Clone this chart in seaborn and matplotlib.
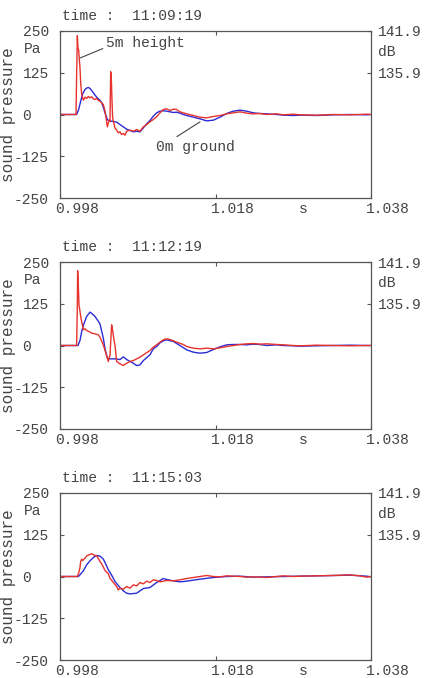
import numpy as np
import pandas as pd
import matplotlib
matplotlib.use("Agg")
import matplotlib.pyplot as plt
from matplotlib.transforms import ScaledTranslation
import seaborn as sns

# time offsets are in ms after 0.998 s, pressures in Pa
t1_red = [0, 2.06, 2.14, 2.23, 2.31, 2.40, 2.49, 2.57, 2.66, 2.79, 2.92, 3.00, 3.22, 3.43, 3.64, 3.86,
          4.07, 4.29, 4.50, 4.72, 4.93, 5.14, 5.36, 5.57, 5.79, 5.92, 6.09, 6.22, 6.34, 6.43, 6.52, 6.60,
          6.69, 6.77, 6.86, 7.07, 7.29, 7.50, 7.72, 7.93, 8.15, 8.36, 8.57, 9.00, 9.43, 9.86, 10.29, 10.72,
          11.15, 11.57, 12.00, 12.43, 12.86, 13.29, 13.72, 14.15, 14.58, 15.00, 15.43, 15.86, 16.29, 17.15,
          18.01, 18.86, 19.72, 20.58, 21.44, 22.29, 23.15, 24.01, 24.86, 25.72, 26.58, 27.87, 28.72, 30.01,
          30.87, 33.01, 35.15, 37.30, 39.44, 40.0]
p1_red = [0, 0, 120, 236, 200, 193, 163, 140, 95, 60, 48, 43, 52, 48, 54, 50,
          53, 47, 45, 48, 42, 40, 35, 30, 10, -10, -37, -25, -17, -20, 128, 110,
          40, -10, -20, -40, -47, -55, -52, -60, -57, -62, -50, -47, -50, -45, -50, -37,
          -30, -22, -15, -7, 5, 15, 17, 12, 16, 15, 8, 5, 2, -3,
          -8, -10, -6, -3, 2, 5, 8, 4, 2, 3, 0, 2, -1, 1,
          -1, -2, 0, -1, 1, 0]
t1_blue = [0, 2.14, 2.40, 2.66, 2.92, 3.22, 3.43, 3.64, 3.86, 4.07, 4.29, 4.50, 4.72, 4.93, 5.14, 5.36,
           5.57, 5.79, 6.09, 6.34, 6.60, 6.86, 7.29, 7.72, 8.15, 8.57, 9.00, 9.43, 9.86, 10.29, 10.72, 11.15,
           11.57, 12.00, 12.43, 12.86, 13.29, 13.72, 14.15, 14.58, 15.00, 15.43, 15.86, 16.29, 17.15, 18.01,
           18.86, 19.72, 20.58, 21.44, 22.29, 23.15, 24.01, 24.86, 25.72, 26.58, 27.87, 28.72, 30.01, 30.87,
           33.01, 35.15, 37.30, 39.44, 40.0]
p1_blue = [0, 0, 15, 40, 62, 75, 79, 81, 78, 72, 65, 58, 52, 47, 43, 35,
           22, 5, -15, -20, -20, -21, -23, -30, -37, -44, -48, -52, -50, -52, -40, -28,
           -18, -5, 5, 10, 11, 10, 8, 6, 7, 4, 0, -3, -8, -13,
           -19, -17, -8, 3, 10, 13, 10, 5, 3, 2, 0, -2, -3, -2,
           -3, -1, 0, -1, 0]

t2_red = [0, 2.14, 2.23, 2.27, 2.36, 2.44, 2.70, 3.00, 3.22, 3.43, 3.86, 4.07, 4.50, 4.93, 5.14, 5.57,
          5.92, 6.22, 6.34, 6.43, 6.64, 6.77, 6.86, 7.07, 7.29, 7.72, 8.15, 8.57, 9.00, 9.43, 9.86, 10.29,
          10.72, 11.57, 12.00, 12.43, 12.86, 13.29, 13.72, 14.15, 14.58, 15.00, 15.86, 16.29, 17.15, 18.01,
          18.86, 19.72, 20.58, 21.44, 22.29, 23.15, 24.01, 24.86, 25.72, 26.58, 27.87, 28.72, 30.01, 30.87,
          33.01, 35.15, 37.30, 39.44, 40.0]
p2_red = [0, 0, 120, 224, 180, 122, 82, 47, 50, 45, 40, 37, 35, 32, 25, 2,
          -25, -48, -35, -30, 62, 45, 30, 0, -48, -55, -60, -53, -48, -45, -40, -35,
          -28, -15, -5, 2, 10, 17, 20, 18, 14, 10, 3, -3, -8, -10,
          -8, -10, -7, -3, 0, 3, 5, 6, 4, 5, 3, 2, 0, -1,
          1, 0, -1, 0, 0]
t2_blue = [0, 2.31, 2.57, 2.79, 3.00, 3.43, 3.86, 4.29, 4.50, 5.14, 5.57, 5.79, 6.09, 6.43, 7.07, 7.72,
           8.15, 8.57, 9.43, 9.86, 10.29, 10.72, 11.57, 12.00, 12.43, 12.86, 13.29, 13.72, 14.58, 15.43,
           16.29, 17.15, 18.01, 18.86, 19.72, 20.58, 21.44, 22.29, 23.15, 24.01, 24.86, 25.72, 26.58, 27.87,
           28.72, 30.01, 30.87, 33.01, 35.15, 37.30, 39.44, 40.0]
p2_blue = [0, 0, 15, 42, 60, 87, 100, 92, 87, 65, 22, -10, -38, -40, -40, -42,
           -34, -42, -53, -60, -58, -45, -28, -10, -3, 8, 14, 17, 12, 0,
           -13, -20, -23, -21, -12, -4, 2, 3, 3, 2, 4, 3, 0, 2,
           0, -1, -2, -1, 0, 1, 0, 0]

t3_red = [0, 2.23, 2.40, 2.57, 2.66, 2.79, 2.92, 3.22, 3.43, 3.86, 4.07, 4.50, 4.72, 5.14, 5.36, 5.79,
          6.22, 6.43, 6.86, 7.29, 7.50, 7.72, 8.15, 8.57, 9.00, 9.43, 9.86, 10.29, 10.72, 11.15, 11.57,
          12.00, 12.43, 12.86, 13.72, 14.58, 15.43, 16.29, 17.15, 18.01, 18.86, 19.72, 20.58, 21.44, 22.29,
          23.15, 24.01, 24.86, 26.58, 27.87, 28.72, 30.01, 30.87, 33.01, 35.15, 37.30, 38.5, 39.44, 40.0]
p3_red = [0, 0, 10, 27, 45, 52, 48, 55, 62, 66, 68, 63, 62, 45, 38, 18,
          8, -5, -18, -30, -40, -35, -38, -30, -35, -25, -28, -18, -22, -14, -18,
          -10, -12, -16, -12, -13, -10, -6, -3, 0, 3, 0, -1, 2, 1,
          0, -2, -1, -3, 0, 2, 0, 1, 2, 3, 5, 2, -2, 0]
t3_blue = [0, 2.36, 2.57, 3.00, 3.43, 3.86, 4.29, 4.72, 5.14, 5.57, 5.79, 6.22, 6.69, 7.07, 7.72, 8.15,
           8.57, 9.00, 9.43, 9.86, 10.72, 11.57, 12.43, 13.29, 13.72, 14.58, 15.43, 16.29, 18.01, 19.72,
           21.44, 23.15, 24.86, 26.58, 28.72, 30.87, 33.01, 35.15, 37.30, 39.44, 40.0]
p3_blue = [0, 0, 5, 17, 35, 47, 57, 63, 61, 52, 42, 20, 2, -15, -33, -43,
           -50, -52, -51, -50, -36, -33, -18, -6, -9, -13, -16, -14, -8, -3,
           0, 1, -2, -1, 0, 1, 2, 3, 4, 1, -1]

times = ["11:09:19", "11:12:19", "11:15:03"]
x_ticks = [0.998, 1.018, 1.038]
x_labels = ["0.998", "1.018", "1.038"]
y_ticks = [250, 125, 0, -125, -250]
y_labels = ["250", "125", "0  ", "-125", "-250"]
db_ticks = [250, 125]
db_labels = ["141.9", "135.9"]

RED = "#e8322c"
BLUE = "#2c2cd6"
INK = "#444444"

sns.set_style("ticks")
plt.rcParams["font.family"] = ["Liberation Mono", "DejaVu Sans Mono"]

fig = plt.figure(figsize=(4.32, 6.78), dpi=100)
W, H = 432, 678
tops = [31, 262, 493]

panels = [(t1_red, p1_red, t1_blue, p1_blue),
          (t2_red, p2_red, t2_blue, p2_blue),
          (t3_red, p3_red, t3_blue, p3_blue)]

for i, (tr, pr, tb, pb) in enumerate(panels):
    top = tops[i]
    ax = fig.add_axes([60 / W, (H - top - 167) / H, 311 / W, 167 / H])
    blue = pd.DataFrame({"t": 0.998 + np.array(tb) / 1000, "p": pb})
    red = pd.DataFrame({"t": 0.998 + np.array(tr) / 1000, "p": pr})
    sns.lineplot(data=blue, x="t", y="p", ax=ax, color=BLUE, lw=1.0, estimator=None, sort=False)
    sns.lineplot(data=red, x="t", y="p", ax=ax, color=RED, lw=1.0, estimator=None, sort=False)

    ax.set_xlim(0.998, 1.038)
    ax.set_ylim(-250, 250)
    ax.set_xticks(x_ticks)
    ax.set_xticklabels(x_labels)
    ax.set_yticks(y_ticks)
    ax.set_yticklabels(y_labels)
    ax.tick_params(direction="in", length=3, width=0.8, color="#555555", labelcolor=INK,
                   labelsize=10.5, top=True)
    ax.tick_params(axis="y", pad=8)
    ax.tick_params(axis="x", pad=3)
    for lab in ax.get_xticklabels():
        lab.set_transform(lab.get_transform() + ScaledTranslation(17 / 100, 0, fig.dpi_scale_trans))
    for s in ax.spines.values():
        s.set_color("#555555")
        s.set_linewidth(0.9)

    tw = ax.twinx()
    tw.set_ylim(-250, 250)
    tw.set_yticks(db_ticks)
    tw.set_yticklabels(db_labels)
    tw.tick_params(direction="in", length=3, width=0.8, color="#555555", labelcolor=INK,
                   labelsize=10.5, pad=5)
    for s in tw.spines.values():
        s.set_visible(False)

    ax.set_xlabel("")
    ax.set_ylabel("sound pressure", fontsize=11.5, color=INK)
    # rotated label is anchored on its right edge
    ax.yaxis.set_label_coords(-44 / 311, 0.5)

    ax.text(2 / 311, 1 + 15 / 167, "time :  " + times[i], transform=ax.transAxes,
            ha="left", va="center", fontsize=10.5, color=INK)
    ax.text(-36 / 311, 0.892, "Pa", transform=ax.transAxes, ha="left", va="center",
            fontsize=10.5, color=INK)
    ax.text(1 + 7 / 311, 0.874, "dB", transform=ax.transAxes, ha="left", va="center",
            fontsize=10.5, color=INK)
    ax.text(243 / 311, -11 / 167, "s", transform=ax.transAxes, ha="center", va="center",
            fontsize=10.5, color=INK)

    if i == 0:
        ax.annotate("5m height", xy=(1.00057, 169), xytext=(1.00392, 214),
                    ha="left", va="center", fontsize=10.5, color=INK,
                    arrowprops=dict(arrowstyle="-", color=INK, lw=0.8, relpos=(0, 0.2),
                                    shrinkA=0, shrinkB=0))
        ax.annotate("0m ground", xy=(1.01601, -22), xytext=(1.01035, -97),
                    ha="left", va="center", fontsize=10.5, color=INK,
                    arrowprops=dict(arrowstyle="-", color=INK, lw=0.8, relpos=(0.2, 1.0),
                                    shrinkA=0, shrinkB=0))

fig.savefig("out.png", dpi=100)
